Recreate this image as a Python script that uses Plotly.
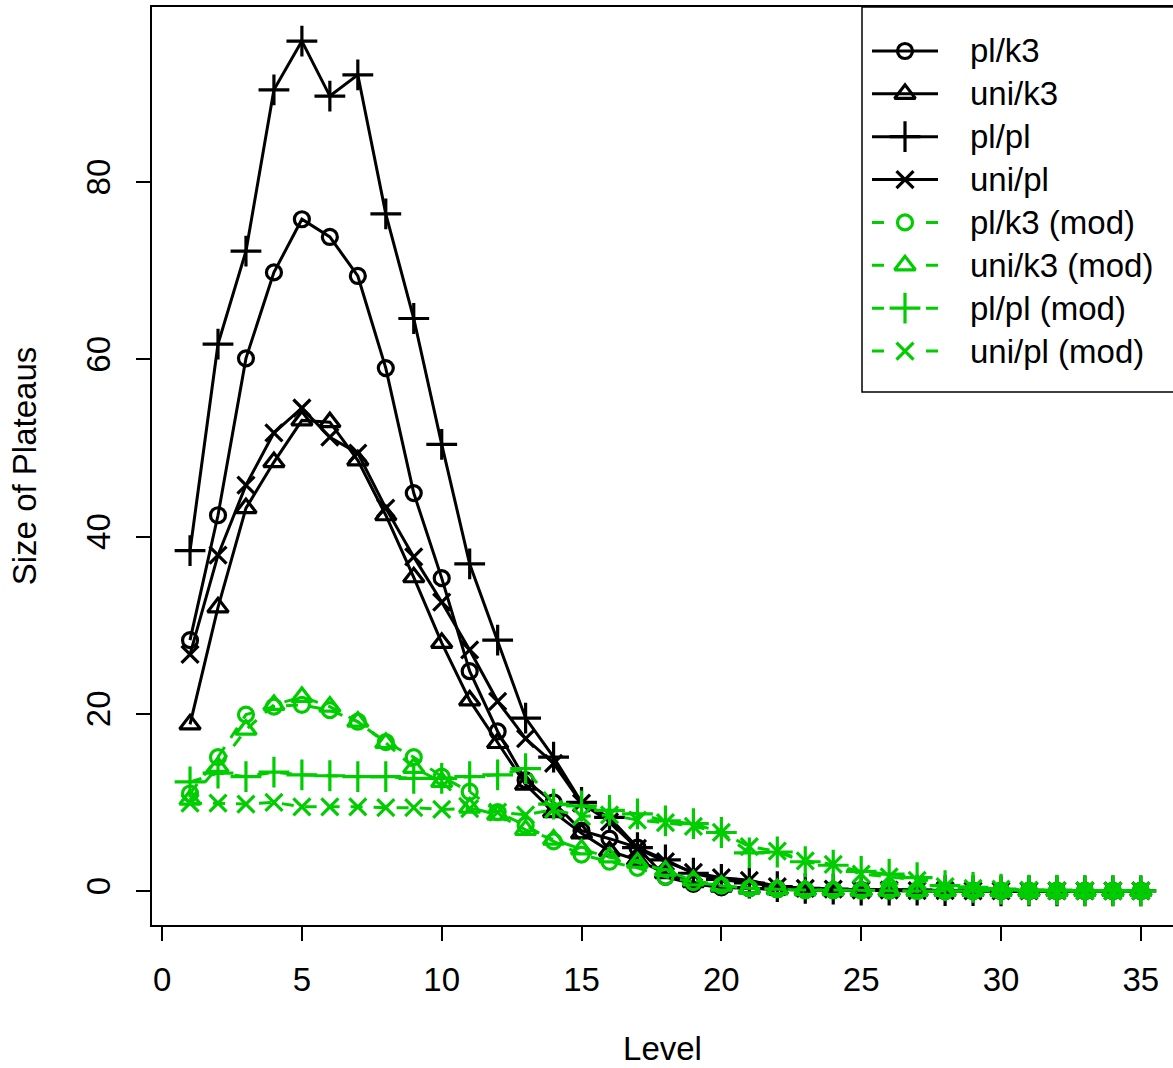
import plotly.graph_objects as go

# Plateau sizes per level for four network/sampling setups, original and modified
levels = list(range(1, 36))

pl_k3 = [28.3, 42.4, 60.1, 69.8, 75.8, 73.8, 69.4, 59.0, 44.9, 35.3, 24.8, 18.0, 12.5, 10.0, 6.8,
         5.9, 4.9, 1.6, 0.8, 0.4, 0.3, 0.2, 0.1, 0.1, 0.1, 0.05, 0.05, 0, 0, 0, 0, 0, 0, 0, 0]
uni_k3 = [18.8, 32.0, 43.2, 48.4, 53.1, 52.9, 48.6, 42.4, 35.4, 28.0, 21.5, 16.7, 12.0, 8.9, 6.5,
          4.5, 3.5, 2.0, 1.0, 0.5, 0.3, 0.2, 0.1, 0.1, 0.05, 0.05, 0, 0, 0, 0, 0, 0, 0, 0, 0]
pl_pl = [38.4, 61.7, 72.2, 90.4, 95.9, 89.7, 92.1, 76.4, 64.6, 50.4, 36.9, 28.3, 19.5, 15.1, 10.0,
         8.3, 4.9, 3.5, 2.0, 1.3, 0.9, 0.5, 0.3, 0.2, 0.1, 0.1, 0.1, 0.05, 0.05, 0, 0, 0, 0, 0, 0]
uni_pl = [26.7, 37.9, 45.8, 51.7, 54.5, 51.2, 49.4, 43.2, 37.7, 32.6, 27.2, 21.4, 17.2, 14.4, 9.9,
          7.8, 4.8, 3.3, 2.1, 1.5, 1.2, 0.5, 0.3, 0.2, 0.1, 0.1, 0.05, 0.05, 0, 0, 0, 0, 0, 0, 0]

pl_k3_mod = [11.0, 15.1, 19.9, 20.8, 21.0, 20.4, 19.1, 16.8, 15.1, 12.9, 11.2, 8.9, 7.4, 5.6, 4.1,
             3.3, 2.6, 1.6, 1.0, 0.6, 0.3, 0.2, 0.1, 0.1, 0.05, 0.05, 0, 0, 0, 0, 0, 0, 0, 0, 0]
uni_k3_mod = [10.3, 14.0, 18.2, 21.0, 21.9, 20.8, 19.1, 16.7, 13.9, 12.3, 9.4, 8.6, 6.9, 5.8, 4.7,
              3.8, 3.2, 2.3, 1.2, 0.6, 0.3, 0.2, 0.1, 0.1, 0.05, 0.05, 0, 0, 0, 0, 0, 0, 0, 0, 0]
pl_pl_mod = [12.3, 13.3, 12.9, 13.4, 13.1, 13.0, 12.9, 12.9, 12.7, 12.7, 12.9, 13.1, 13.8, 9.8, 9.6,
             9.1, 8.7, 7.9, 7.6, 6.6, 4.3, 4.4, 3.3, 2.9, 2.2, 1.9, 1.5, 0.6, 0.4, 0.2, 0.1, 0.1,
             0.05, 0.05, 0]
uni_pl_mod = [9.9, 9.9, 9.8, 10.0, 9.5, 9.5, 9.5, 9.4, 9.4, 9.2, 9.3, 8.9, 8.6, 9.2, 8.4,
              8.6, 8.0, 7.7, 7.3, 6.6, 5.0, 4.5, 3.4, 3.0, 1.9, 1.6, 1.2, 0.5, 0.3, 0.2, 0.1, 0.05,
              0.05, 0, 0]

names = ["pl/k3", "uni/k3", "pl/pl", "uni/pl",
         "pl/k3 (mod)", "uni/k3 (mod)", "pl/pl (mod)", "uni/pl (mod)"]
series = [pl_k3, uni_k3, pl_pl, uni_pl, pl_k3_mod, uni_k3_mod, pl_pl_mod, uni_pl_mod]

symbols = ["circle-open", "triangle-up-open", "cross-thin-open", "x-thin-open"] * 2
sizes = [15, 18, 22, 17] * 2
colors = ["#000000"] * 4 + ["#00CD00"] * 4
dashes = ["solid"] * 4 + ["12px,11px"] * 4
LINE_W, MARK_W = 3.0, 3.2

FONT = "Liberation Sans, Arial, Helvetica, sans-serif"
FS = 33

# figure / plot-area geometry in pixels
W, H = 1173, 1068
ML, MR, MT, MB = 152, 0, 7, 143
PW, PH = W - ML - MR, H - MT - MB


def px_x(px):
    return (px - ML) / PW


def px_y(py):
    return (MT + PH - py) / PH


fig = go.Figure()
for name, ys, sym, sz, col, dash in zip(names, series, symbols, sizes, colors, dashes):
    fig.add_trace(go.Scatter(
        x=levels, y=ys, name=name, mode="lines+markers", showlegend=False,
        line=dict(color=col, width=LINE_W, dash=dash),
        marker=dict(symbol=sym, size=sz, color=col, line=dict(color=col, width=MARK_W)),
    ))

# legend box drawn by hand: line sample, symbol and label per row
LEG_LEFT, LEG_TOP, LEG_BOTTOM = 862, 7, 392
ROW0, ROW_STEP = 51, 42.86
SAMPLE_X0, SAMPLE_X1, SYM_X, TEXT_X = 872, 938, 905, 968

shapes = [dict(type="rect", xref="paper", yref="paper",
               x0=px_x(LEG_LEFT), x1=1.05, y0=px_y(LEG_BOTTOM), y1=px_y(LEG_TOP),
               line=dict(color="black", width=1.5), fillcolor="white", layer="below")]
annotations = []
for i, (name, sym, sz, col, dash) in enumerate(zip(names, symbols, sizes, colors, dashes)):
    ry = ROW0 + i * ROW_STEP
    shapes.append(dict(
        type="line", xref="paper", yref="paper",
        x0=px_x(SAMPLE_X0), x1=px_x(SAMPLE_X1), y0=px_y(ry), y1=px_y(ry),
        line=dict(color=col, width=LINE_W, dash="solid" if dash == "solid" else "12px,42px"),
        layer="below",
    ))
    annotations.append(dict(
        xref="paper", yref="paper", x=px_x(TEXT_X), y=px_y(ry),
        xanchor="left", yanchor="middle", showarrow=False, text=name,
        font=dict(family=FONT, size=FS, color="black"),
    ))
    fig.add_trace(go.Scatter(
        x=[px_x(SYM_X)], y=[px_y(ry)], xaxis="x2", yaxis="y2",
        mode="markers", showlegend=False, hoverinfo="skip",
        marker=dict(symbol=sym, size=sz, color=col, line=dict(color=col, width=MARK_W)),
    ))

axis_common = dict(
    showline=True, linecolor="black", linewidth=1.5,
    ticks="outside", ticklen=14, tickwidth=1.5, tickcolor="black",
    showgrid=False, zeroline=False, automargin=False,
    tickfont=dict(family=FONT, size=FS, color="black"),
)

fig.update_layout(
    width=W, height=H,
    margin=dict(l=ML, r=MR, t=MT, b=MB),
    paper_bgcolor="white", plot_bgcolor="white",
    font=dict(family=FONT, size=FS, color="black"),
    showlegend=False,
    shapes=shapes,
    annotations=annotations,
    xaxis=dict(
        range=[-0.36, 36.15], mirror=True,
        tickvals=[0, 5, 10, 15, 20, 25, 30, 35],
        ticklabelstandoff=11,
        title=dict(text="Level", font=dict(family=FONT, size=FS), standoff=40),
        **axis_common,
    ),
    yaxis=dict(
        range=[-3.84, 99.75], mirror=False,
        tickvals=[0, 20, 40, 60, 80],
        tickangle=-90,
        ticklabelstandoff=13,
        title=dict(text="Size of Plateaus", font=dict(family=FONT, size=FS), standoff=33),
        **axis_common,
    ),
    xaxis2=dict(overlaying="x", range=[0, 1], visible=False, fixedrange=True),
    yaxis2=dict(overlaying="y", range=[0, 1], visible=False, fixedrange=True),
)

fig.write_html("out.html")
